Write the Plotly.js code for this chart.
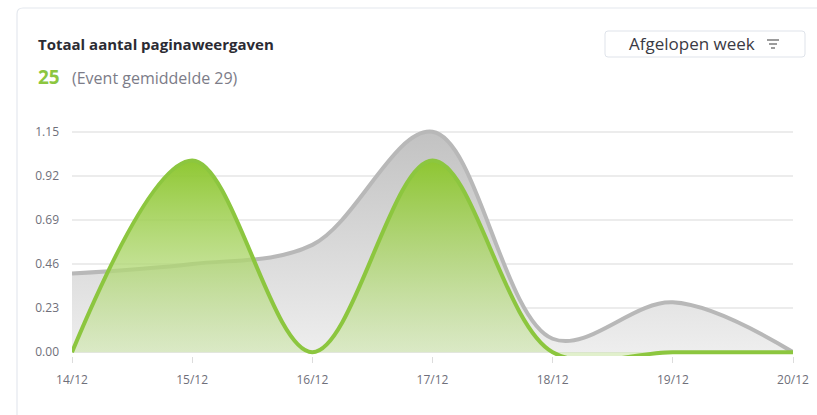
<!DOCTYPE html>
<html><head><meta charset="utf-8">
<script src="https://cdn.plot.ly/plotly-3.0.1.min.js"></script>
<style>html,body{margin:0;padding:0;background:#fff;}#chart{width:817px;height:415px;}</style>
</head><body><div id="chart"></div>
<script>
const categories = ['14/12','15/12','16/12','17/12','18/12','19/12','20/12'];
const eventAverage = [0.41, 0.46, 0.56, 1.15, 0.07, 0.26, 0.0];
const pageViews = [0, 1, 0, 1, 0, 0, 0];
const yTicks = [0, 0.23, 0.46, 0.69, 0.92, 1.15];
const yTickLabels = ['0.00','0.23','0.46','0.69','0.92','1.15'];

const W = 817, H = 415;
const M = {l: 72, r: 24, t: 128, b: 59};
const pw = W - M.l - M.r, ph = H - M.t - M.b;
const px = x => (x - M.l) / pw;
const py = y => (H - M.b - y) / ph;

function roundRect(x0, y0, x1, y1, r) {
  const X0 = px(x0), X1 = px(x1), Y0 = py(y0), Y1 = py(y1);
  const rx = r / pw, ry = r / ph;
  return `M ${X0 + rx} ${Y0} L ${X1 - rx} ${Y0} Q ${X1} ${Y0} ${X1} ${Y0 - ry} L ${X1} ${Y1 + ry} Q ${X1} ${Y1} ${X1 - rx} ${Y1} L ${X0 + rx} ${Y1} Q ${X0} ${Y1} ${X0} ${Y1 + ry} L ${X0} ${Y0 - ry} Q ${X0} ${Y0} ${X0 + rx} ${Y0} Z`;
}

const traces = [
  {
    x: categories, y: eventAverage, type: 'scatter', mode: 'lines',
    line: {shape: 'spline', smoothing: 1, color: '#b8b8b8', width: 4},
    fill: 'tozeroy',
    fillgradient: {type: 'vertical', start: 0, stop: 1.15,
      colorscale: [[0, 'rgba(238,238,238,1)'], [1, 'rgba(194,194,194,1)']]},
    hoverinfo: 'skip'
  },
  {
    x: categories, y: pageViews, type: 'scatter', mode: 'lines',
    line: {shape: 'spline', smoothing: 1, color: '#8cc63f', width: 4},
    fill: 'tozeroy',
    fillgradient: {type: 'vertical', start: 0, stop: 1.0,
      colorscale: [[0, 'rgba(205,230,170,0.6)'], [1, 'rgba(140,198,45,0.97)']]},
    hoverinfo: 'skip'
  }
];

const font = "'Open Sans', 'Noto Sans', sans-serif";
const layout = {
  width: W, height: H, margin: M,
  paper_bgcolor: '#fff', plot_bgcolor: '#fff',
  showlegend: false,
  font: {family: font, color: '#777', size: 12},
  xaxis: {
    type: 'category', range: [0, 6], showgrid: false, zeroline: false,
    showline: false, ticks: 'outside', ticklen: 6, tickcolor: '#dcdcdc', tickwidth: 1,
    ticklabelstandoff: 7,
    tickfont: {family: font, size: 12, color: '#6f6f7a'}, fixedrange: true
  },
  yaxis: {
    range: [-0.02, 1.17], tickvals: yTicks, ticktext: yTickLabels,
    showgrid: true, gridcolor: '#ececec', gridwidth: 1.5,
    zeroline: true, zerolinecolor: '#e3e3e3', zerolinewidth: 1.5,
    ticks: '', ticklabelstandoff: 12,
    tickfont: {family: font, size: 12, color: '#6f6f7a'}, fixedrange: true
  },
  shapes: [
    {type: 'path', xref: 'paper', yref: 'paper', path: roundRect(17, 8, 830, 430, 6),
      line: {color: '#e4e8ee', width: 1.2}, fillcolor: 'rgba(0,0,0,0)', layer: 'below'},
    {type: 'path', xref: 'paper', yref: 'paper', path: roundRect(605, 31, 805, 57, 3),
      line: {color: '#dfe3ea', width: 1}, fillcolor: 'rgba(0,0,0,0)'},
    {type: 'line', xref: 'paper', yref: 'paper', x0: px(767), x1: px(779), y0: py(40), y1: py(40), line: {color: '#666', width: 1.3}},
    {type: 'line', xref: 'paper', yref: 'paper', x0: px(769), x1: px(777), y0: py(44), y1: py(44), line: {color: '#666', width: 1.3}},
    {type: 'line', xref: 'paper', yref: 'paper', x0: px(771), x1: px(775), y0: py(48), y1: py(48), line: {color: '#666', width: 1.3}}
  ],
  annotations: [
    {text: '<b>Totaal aantal paginaweergaven</b>', xref: 'paper', yref: 'paper',
      x: px(36), y: py(44), xanchor: 'left', yanchor: 'middle', showarrow: false,
      font: {family: font, size: 15, color: '#2b2b33'}},
    {text: '<b>25</b>', xref: 'paper', yref: 'paper',
      x: px(36), y: py(77), xanchor: 'left', yanchor: 'middle', showarrow: false,
      font: {family: font, size: 19, color: '#8cc63f'}},
    {text: '(Event gemiddelde 29)', xref: 'paper', yref: 'paper',
      x: px(70), y: py(78), xanchor: 'left', yanchor: 'middle', showarrow: false,
      font: {family: font, size: 16, color: '#7c7c88'}},
    {text: 'Afgelopen week', xref: 'paper', yref: 'paper',
      x: px(627), y: py(44), xanchor: 'left', yanchor: 'middle', showarrow: false,
      font: {family: font, size: 17, color: '#3a3a44'}}
  ]
};

Plotly.newPlot('chart', traces, layout, {displayModeBar: false, staticPlot: true});
</script>
</body></html>
